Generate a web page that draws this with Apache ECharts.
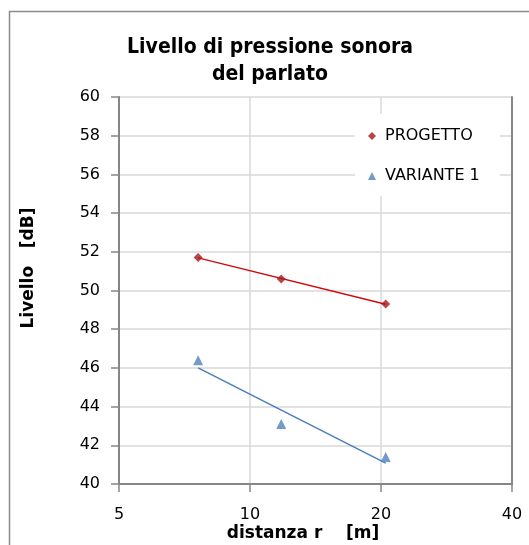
<!DOCTYPE html>
<html>
<head>
<meta charset="utf-8">
<script src="https://cdn.jsdelivr.net/npm/echarts@6/dist/echarts.min.js"></script>
<style>
  html, body { margin: 0; padding: 0; background: #fff; }
  #chart { width: 529px; height: 545px; }
</style>
</head>
<body>
<div id="chart"></div>
<script>
// Measured distances (m) and speech sound pressure levels (dB)
const distances = [7.6, 11.8, 20.5];
const progetto = [51.7, 50.6, 49.3];
const variante1 = [46.4, 43.1, 41.4];
const xTickValues = [5, 10, 20, 40];
const seriesNames = ['PROGETTO', 'VARIANTE 1'];

// The distance axis is logarithmic with doublings from 5 m: axis units are log2(r / 5)
const base = xTickValues[0];
const toAxis = r => Math.log2(r / base);

// Logarithmic least-squares trend line y = a + b ln(r), evaluated at the first and last distance
function logTrend(xs, ys) {
  const lx = xs.map(Math.log);
  const n = xs.length;
  const mx = lx.reduce((s, v) => s + v, 0) / n;
  const my = ys.reduce((s, v) => s + v, 0) / n;
  let sxy = 0, sxx = 0;
  for (let i = 0; i < n; i++) {
    sxy += (lx[i] - mx) * (ys[i] - my);
    sxx += (lx[i] - mx) * (lx[i] - mx);
  }
  const b = sxy / sxx, a = my - b * mx;
  const ends = [xs[0], xs[n - 1]];
  return ends.map(r => [toAxis(r), a + b * Math.log(r)]);
}

const pts = ys => distances.map((r, i) => [toAxis(r), ys[i]]);

const RED = '#a8161c';
const RED_LINE = '#d10a0a';
const BLUE = '#4f81bd';
const BLUE_LINE = '#4a7ebb';
const AXIS_GRAY = '#868686';
const GRID_GRAY = '#d9d9d9';
const FONT = 'DejaVu Sans';

const chart = echarts.init(document.getElementById('chart'), null, { renderer: 'canvas' });

chart.setOption({
  animation: false,
  backgroundColor: '#fff',
  grid: { left: 119, right: 17, top: 97, bottom: 61 },
  graphic: [
    {
      type: 'rect', silent: true, z: -10,
      shape: { x: 9.5, y: 11.5, width: 700, height: 700 },
      style: { fill: 'none', stroke: '#8a8a8a', lineWidth: 1.5 }
    },
    {
      type: 'text', silent: true,
      style: {
        text: 'Livello di pressione sonora\ndel parlato',
        x: 270, y: 34, align: 'center', verticalAlign: 'top',
        font: 'bold 21px "DejaVu Sans Condensed"', lineHeight: 27, fill: '#000'
      }
    },
    {
      type: 'text', silent: true,
      style: {
        text: 'distanza r    [m]',
        x: 303, y: 525, align: 'center', verticalAlign: 'top',
        font: 'bold 17px "DejaVu Sans"', fill: '#000'
      }
    },
    {
      type: 'text', silent: true, rotation: Math.PI / 2,
      x: 29, y: 268,
      style: {
        text: 'Livello   [dB]',
        x: 0, y: 0, align: 'center', verticalAlign: 'middle',
        font: 'bold 17px "DejaVu Sans"', fill: '#000'
      }
    }
  ],
  legend: {
    orient: 'vertical',
    left: 355, top: 114,
    backgroundColor: '#fff',
    padding: [14, 20, 12, 13],
    itemGap: 24,
    itemWidth: 8, itemHeight: 8,
    textStyle: { fontFamily: FONT, fontSize: 16, color: '#000', lineHeight: 16, padding: [0, 0, 0, 4] },
    data: [
      { name: seriesNames[0], icon: 'diamond', itemStyle: { color: RED } },
      { name: seriesNames[1], icon: 'triangle', itemStyle: { color: BLUE } }
    ]
  },
  xAxis: {
    type: 'value',
    min: 0, max: toAxis(xTickValues[xTickValues.length - 1]), interval: 1,
    axisLine: { show: true, lineStyle: { color: AXIS_GRAY, width: 2 } },
    axisTick: { show: true, length: 8, lineStyle: { color: AXIS_GRAY, width: 1.5 } },
    axisLabel: {
      margin: 23, color: '#000', fontFamily: FONT, fontSize: 16,
      formatter: v => String(Math.round(base * Math.pow(2, v)))
    },
    splitLine: { show: true, lineStyle: { color: GRID_GRAY, width: 1.5 } }
  },
  yAxis: [
    {
      type: 'value', min: 40, max: 60, interval: 2,
      axisLine: { show: true, lineStyle: { color: AXIS_GRAY, width: 2 } },
      axisTick: { show: true, length: 8, lineStyle: { color: AXIS_GRAY, width: 1.5 } },
      axisLabel: { margin: 19, color: '#000', fontFamily: FONT, fontSize: 16 },
      splitLine: { show: true, lineStyle: { color: GRID_GRAY, width: 1.5 } }
    },
    {
      type: 'value', min: 40, max: 60, interval: 2, position: 'right',
      axisLine: { show: true, lineStyle: { color: AXIS_GRAY, width: 2 } },
      axisTick: { show: false }, axisLabel: { show: false }, splitLine: { show: false }
    }
  ],
  series: [
    {
      name: seriesNames[0] + ' trend', type: 'line', data: logTrend(distances, progetto),
      showSymbol: false, lineStyle: { color: RED_LINE, width: 1.5 }, z: 2, silent: true
    },
    {
      name: seriesNames[1] + ' trend', type: 'line', data: logTrend(distances, variante1),
      showSymbol: false, lineStyle: { color: BLUE_LINE, width: 1.5 }, z: 2, silent: true
    },
    {
      name: seriesNames[0], type: 'scatter', data: pts(progetto),
      symbol: 'diamond', symbolSize: 9, itemStyle: { color: RED }, z: 3
    },
    {
      name: seriesNames[1], type: 'scatter', data: pts(variante1),
      symbol: 'triangle', symbolSize: 10, itemStyle: { color: BLUE }, z: 3
    }
  ]
});
</script>
</body>
</html>
